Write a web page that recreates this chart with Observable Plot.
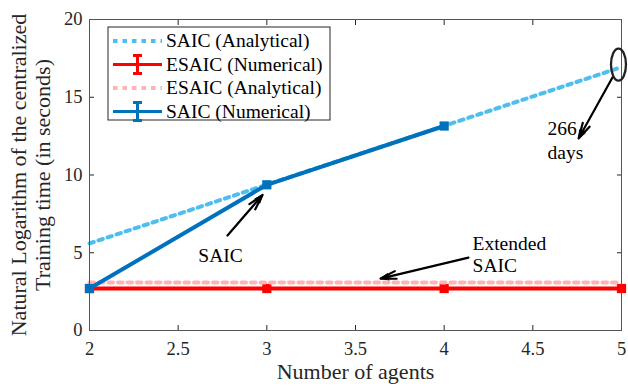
<!DOCTYPE html>
<html>
<head>
<meta charset="utf-8">
<script src="https://cdn.jsdelivr.net/npm/d3@7"></script>
<script src="https://cdn.jsdelivr.net/npm/@observablehq/plot@0.6"></script>
<style>
  body { margin: 0; background: white; }
  #chart { position: relative; width: 628px; height: 390px; }
</style>
</head>
<body>
<div id="chart"></div>
<script>
// ---- data ----
const agents = [2, 3, 4, 5];
const saicAnalytical = [5.6, 9.38, 13.16, 16.94];
const esaicNumerical = [2.7, 2.7, 2.7, 2.7];
const esaicAnalytical = [3.08, 3.08, 3.08, 3.08];
const saicNumerical = [2.7, 9.37, 13.15];

const xTicks = [2, 2.5, 3, 3.5, 4, 4.5, 5];
const yTicks = [0, 5, 10, 15, 20];

const seriesNames = ["SAIC (Analytical)", "ESAIC (Numerical)", "ESAIC (Analytical)", "SAIC (Numerical)"];
const seriesColors = ["#4DBEEE", "#FF0000", "#FFB3B3", "#0072BD"];
const seriesValues = [saicAnalytical, esaicNumerical, esaicAnalytical, saicNumerical];
const seriesDotted = [true, false, true, false];

const xLabel = "Number of agents";
const yLabel1 = "Natural Logarithm of the centralized";
const yLabel2 = "Training time (in seconds)";

// annotations (data coordinates)
const noteTexts = [
  {x: 2.739, y: 4.82, text: "SAIC", anchor: "middle"},
  {x: 4.16, y: 5.59, text: "Extended", anchor: "start"},
  {x: 4.16, y: 4.18, text: "SAIC", anchor: "start"},
  {x: 4.583, y: 12.99, text: "266", anchor: "start"},
  {x: 4.583, y: 11.45, text: "days", anchor: "start"}
];
const noteArrows = [
  {x1: 2.778, y1: 6.11, x2: 2.976, y2: 8.72},
  {x1: 4.137, y1: 4.69, x2: 3.641, y2: 3.34},
  {x1: 4.949, y1: 16.27, x2: 4.758, y2: 12.35}
];
const noteEllipse = [{x: 4.983, y: 17.1}];

// ---- build ----
const series = seriesNames.map((name, i) => ({
  name, color: seriesColors[i], dotted: seriesDotted[i],
  points: seriesValues[i].map((v, j) => ({x: agents[j], y: v}))
}));

const ellipseSymbol = {
  draw(ctx) {
    const rx = 7.5, ry = 16, k = 0.5523;
    ctx.moveTo(rx, 0);
    ctx.bezierCurveTo(rx, k * ry, k * rx, ry, 0, ry);
    ctx.bezierCurveTo(-k * rx, ry, -rx, k * ry, -rx, 0);
    ctx.bezierCurveTo(-rx, -k * ry, -k * rx, -ry, 0, -ry);
    ctx.bezierCurveTo(k * rx, -ry, rx, -k * ry, rx, 0);
    ctx.closePath();
  }
};

const FONT = "Liberation Serif";
const ink = "#262626";

const seriesMarks = [];
for (const s of series) {
  seriesMarks.push(Plot.line(s.points, {
    x: "x", y: "y", stroke: s.color, strokeWidth: 4,
    strokeDasharray: s.dotted ? "4.5,5" : null
  }));
  if (!s.dotted) {
    seriesMarks.push(Plot.dot(s.points, {x: "x", y: "y", symbol: "square", r: 5.2, fill: s.color}));
  }
}

const fmt = d => String(d);

const chart = Plot.plot({
  width: 628,
  height: 390,
  marginLeft: 89,
  marginRight: 7,
  marginTop: 19,
  marginBottom: 60,
  style: {fontFamily: FONT, fontSize: "18.5px", color: ink, background: "white", overflow: "visible"},
  x: {domain: [2, 5], label: null},
  y: {domain: [0, 20], label: null},
  marks: [
    // inward ticks on all four sides
    Plot.axisX(xTicks, {anchor: "bottom", tickSize: 5, dy: -5, fill: "none", label: null, stroke: ink}),
    Plot.axisX(xTicks, {anchor: "top", tickSize: 5, dy: 5, fill: "none", label: null, stroke: ink}),
    Plot.axisY(yTicks, {anchor: "left", tickSize: 5, dx: 5, fill: "none", label: null, stroke: ink}),
    Plot.axisY(yTicks, {anchor: "right", tickSize: 5, dx: -5, fill: "none", label: null, stroke: ink}),
    // tick labels
    Plot.axisX(xTicks, {anchor: "bottom", tickSize: 0, tickPadding: 11, label: null, fill: ink, fontSize: 18.5, tickFormat: fmt}),
    Plot.axisY(yTicks, {anchor: "left", tickSize: 0, tickPadding: 7, label: null, fill: ink, fontSize: 18.5, tickFormat: fmt}),
    // axis titles
    Plot.text([xLabel], {text: d => d, frameAnchor: "bottom", dy: 48, fontSize: 22, fill: ink}),
    Plot.text([yLabel1], {text: d => d, frameAnchor: "left", textAnchor: "middle", dx: -71, rotate: -90, fontSize: 22, fill: ink}),
    Plot.text([yLabel2], {text: d => d, frameAnchor: "left", textAnchor: "middle", dx: -47, rotate: -90, fontSize: 22, fill: ink}),
    ...seriesMarks,
    Plot.frame({stroke: "#555", strokeWidth: 1}),
    // annotations
    Plot.arrow(noteArrows, {x1: "x1", y1: "y1", x2: "x2", y2: "y2", stroke: "black", strokeWidth: 1, headLength: 13, headAngle: 45}),
    Plot.arrow(noteArrows, {x1: "x1", y1: "y1", x2: "x2", y2: "y2", stroke: "black", strokeWidth: 2.2, headLength: 11, headAngle: 28}),
    Plot.text(noteTexts.filter(d => d.anchor === "middle"), {x: "x", y: "y", text: "text", textAnchor: "middle", fontSize: 19.5, fill: "black"}),
    Plot.text(noteTexts.filter(d => d.anchor === "start"), {x: "x", y: "y", text: "text", textAnchor: "start", fontSize: 19.5, fill: "black"}),
    Plot.dot(noteEllipse, {x: "x", y: "y", symbol: ellipseSymbol, fill: "none", stroke: "#222", strokeWidth: 2.3})
  ]
});

document.getElementById("chart").appendChild(chart);

// ---- legend (inside axes, top-left) ----
const svg = d3.select(chart);
const lg = svg.append("g").attr("transform", "translate(108,27)");
lg.append("rect").attr("width", 222).attr("height", 93)
  .attr("fill", "white").attr("stroke", ink).attr("stroke-width", 1);
series.forEach((s, i) => {
  const cy = 14 + i * 23.5;
  const row = lg.append("g").attr("transform", `translate(0,${cy})`);
  row.append("line").attr("x1", 5).attr("x2", 54).attr("y1", 0).attr("y2", 0)
    .attr("stroke", s.color).attr("stroke-width", s.dotted ? 4 : 3)
    .attr("stroke-dasharray", s.dotted ? "4.5,5" : null);
  if (!s.dotted) {
    row.append("line").attr("x1", 29.5).attr("x2", 29.5).attr("y1", -9).attr("y2", 9)
      .attr("stroke", s.color).attr("stroke-width", 3);
    row.append("line").attr("x1", 25).attr("x2", 34).attr("y1", -9).attr("y2", -9)
      .attr("stroke", s.color).attr("stroke-width", 3);
    row.append("line").attr("x1", 25).attr("x2", 34).attr("y1", 9).attr("y2", 9)
      .attr("stroke", s.color).attr("stroke-width", 3);
  }
  row.append("text").attr("x", 58).attr("y", 0).attr("dy", "0.32em")
    .attr("text-anchor", "start")
    .attr("font-family", FONT).attr("font-size", 19.5).attr("fill", "black")
    .text(s.name);
});
</script>
</body>
</html>
